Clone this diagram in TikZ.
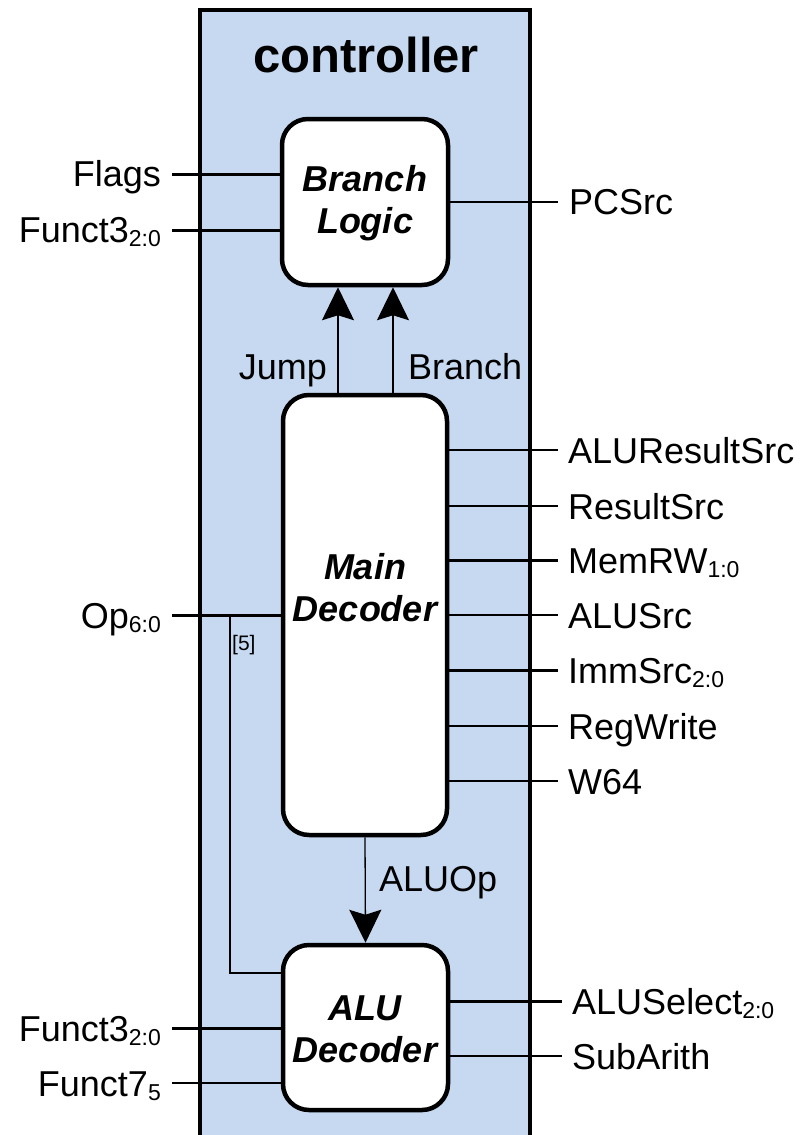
\documentclass[tikz,border=0pt]{standalone}
\usepackage{fontspec}
\setmainfont{Liberation Sans}
\usetikzlibrary{arrows.meta}
\definecolor{ctrlblue}{RGB}{198,217,240}
\newcommand{\subs}[1]{\raisebox{-4pt}{\fontsize{23}{23}\selectfont #1}}
\begin{document}
\begin{tikzpicture}[x=1pt,y=-1pt,
  lbl/.style={font=\fontsize{36}{40}\selectfont, inner sep=0pt},
  blk/.style={draw, line width=4.5pt, fill=white, rounded corners=26pt, inner sep=0pt},
  blktext/.style={font=\fontsize{36}{42}\selectfont\bfseries\itshape, align=center, inner sep=0pt},
  bus/.style={line width=3pt},
  wire/.style={line width=1.3pt},
  arr/.style={wire, -{Stealth[length=33pt,width=32pt,inset=5pt]}}]
\useasboundingbox (0,0) rectangle (806,1135);
\clip (0,0) rectangle (806,1135);
% outer controller box
\draw[fill=ctrlblue, line width=4.5pt] (200,10) rectangle (530,1170);
\node[font=\fontsize{49}{52}\selectfont\bfseries, anchor=base, inner sep=0pt] (title) at (366,72) {controller};
% blocks
\node[blk, minimum width=166pt, minimum height=166pt] (bl) at (365,202) {};
\node[blktext] (bltxt) at (365,203) {Branch\\Logic};
\node[blk, minimum width=164pt, minimum height=440pt] (md) at (365,615) {};
\node[blktext] (mdtxt) at (365,588) {Main\\Decoder};
\node[blk, minimum width=165pt, minimum height=165pt] (alu) at (365.5,1027.5) {};
\node[blktext] (alutxt) at (365,1029) {ALU\\Decoder};
% Branch logic inputs/outputs
\coordinate (flagsE) at (172,174);
\coordinate (f3aE) at (172,230);
\coordinate (pcsE) at (558,202);
\draw[bus] (flagsE) -- (flagsE -| bl.west);
\draw[bus] (f3aE) -- (f3aE -| bl.west);
\draw[wire] (bl.east |- pcsE) -- (pcsE);
\node[lbl, anchor=base east] (flags) at (161,186) {Flags};
\node[lbl, anchor=base east] (f3a) at (161,242) {Funct3\subs{2:0}};
\node[lbl, anchor=base west] (pcs) at (569,214) {PCSrc};
% Jump / Branch arrows
\draw[arr] ([xshift=-27pt]md.north) -- ([xshift=-27pt]bl.south);
\draw[arr] ([xshift=28pt]md.north) -- ([xshift=28pt]bl.south);
\node[lbl, anchor=base east] (jump) at (327,379) {Jump};
\node[lbl, anchor=base west] (branch) at (408,379) {Branch};
% Main decoder outputs
\coordinate (o1) at (558,450);
\coordinate (o2) at (558,506);
\coordinate (o3) at (558,560);
\coordinate (o4) at (558,615);
\coordinate (o5) at (558,670);
\coordinate (o6) at (558,726);
\coordinate (o7) at (558,781);
\draw[wire] (md.east |- o1) -- (o1);
\draw[wire] (md.east |- o2) -- (o2);
\draw[bus]  (md.east |- o3) -- (o3);
\draw[wire] (md.east |- o4) -- (o4);
\draw[bus]  (md.east |- o5) -- (o5);
\draw[wire] (md.east |- o6) -- (o6);
\draw[wire] (md.east |- o7) -- (o7);
\node[lbl, anchor=base west] (l1) at (568,463) {ALUResultSrc};
\node[lbl, anchor=base west] (l2) at (568,519) {ResultSrc};
\node[lbl, anchor=base west] (l3) at (568,573) {MemRW\subs{1:0}};
\node[lbl, anchor=base west] (l4) at (568,628) {ALUSrc};
\node[lbl, anchor=base west] (l5) at (568,683) {ImmSrc\subs{2:0}};
\node[lbl, anchor=base west] (l6) at (568,739) {RegWrite};
\node[lbl, anchor=base west] (l7) at (568,794) {W64};
% Op input
\coordinate (opE) at (172,615);
\coordinate (tap) at (230,615);
\coordinate (tapB) at (230,973);
\draw[bus] (opE) -- (opE -| md.west);
\node[lbl, anchor=base east] (op) at (161,628) {Op\subs{6:0}};
\draw[wire] (tap) -- (tapB) -- (tapB -| alu.west);
\node[font=\fontsize{21}{21}\selectfont, anchor=base west, inner sep=0pt] (b5) at (232,650) {[5]};
% ALUOp
\draw[arr] (md.south) -- (alu.north);
\node[lbl, anchor=base west] (aluop) at (379,891) {ALUOp};
% ALU decoder inputs/outputs
\coordinate (f3bE) at (172,1028);
\coordinate (f7E) at (172,1083);
\coordinate (selE) at (562,1001);
\coordinate (subE) at (562,1056);
\draw[bus] (f3bE) -- (f3bE -| alu.west);
\draw[wire] (f7E) -- (f7E -| alu.west);
\draw[bus] (alu.east |- selE) -- (selE);
\draw[wire] (alu.east |- subE) -- (subE);
\node[lbl, anchor=base east] (f3b) at (161,1041) {Funct3\subs{2:0}};
\node[lbl, anchor=base east] (f7) at (161,1096) {Funct7\subs{5}};
\node[lbl, anchor=base west] (sel) at (572,1014) {ALUSelect\subs{2:0}};
\node[lbl, anchor=base west] (sub) at (572,1069) {SubArith};
\end{tikzpicture}
\end{document}
